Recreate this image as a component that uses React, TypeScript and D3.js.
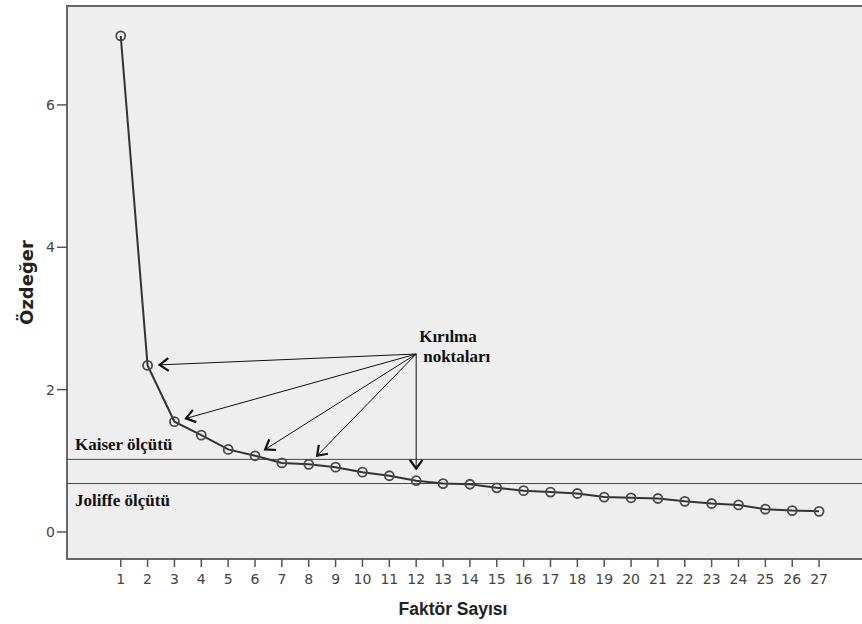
import { useEffect, useRef } from 'react';
import * as d3 from 'd3';

// Scree plot data
const factors = [1, 2, 3, 4, 5, 6, 7, 8, 9, 10, 11, 12, 13, 14, 15, 16, 17, 18, 19, 20, 21, 22, 23, 24, 25, 26, 27];
const eigenvalues = [6.97, 2.34, 1.55, 1.36, 1.16, 1.07, 0.97, 0.95, 0.91, 0.84, 0.79, 0.72, 0.68, 0.67, 0.62, 0.58, 0.56, 0.54, 0.49, 0.48, 0.47, 0.43, 0.40, 0.38, 0.32, 0.30, 0.29];
const yTicks = [0, 2, 4, 6];

// reference lines
const criteria = [
    { name: 'Kaiser ölçütü', value: 1.02 },
    { name: 'Joliffe ölçütü', value: 0.68 },
];

// break points pointed by arrows
const breakFactors = [2, 3, 6, 8, 12];
const breakOrigin = { x: 12, y: 2.5 };
const breakLabel = ['Kırılma', 'noktaları'];

const xTitle = 'Faktör Sayısı';
const yTitle = 'Özdeğer';

const W = 862;
const H = 624;

const App = () => {
    const svgRef = useRef<SVGSVGElement | null>(null);

    useEffect(() => {
        const svg = d3.select(svgRef.current);
        svg.selectAll('*').remove();

        const left = 67, top = 6, bottom = 559;
        const step = 26.86;
        const x = d3.scaleLinear().domain([-1, 30]).range([left, left + 31 * step]);
        const y = d3.scaleLinear().domain([-0.38, 7.39]).range([bottom, top]);

        // plot background + frame (right edge falls outside the picture)
        svg.append('rect')
            .attr('x', left)
            .attr('y', top)
            .attr('width', x(30) - left)
            .attr('height', bottom - top)
            .attr('fill', '#eeeeee')
            .attr('stroke', '#666')
            .attr('stroke-width', 2);

        // y axis ticks
        yTicks.forEach(t => {
            svg.append('line')
                .attr('x1', left - 10).attr('x2', left)
                .attr('y1', y(t)).attr('y2', y(t))
                .attr('stroke', '#555').attr('stroke-width', 1.5);
            svg.append('text')
                .attr('x', left - 12)
                .attr('y', y(t))
                .attr('dy', '0.36em')
                .attr('text-anchor', 'end')
                .attr('fill', '#444')
                .style('font-family', "'DejaVu Sans', sans-serif")
                .style('font-size', '14px')
                .text(t);
        });

        // x axis ticks
        factors.forEach(f => {
            svg.append('line')
                .attr('x1', x(f)).attr('x2', x(f))
                .attr('y1', bottom).attr('y2', bottom + 8)
                .attr('stroke', '#555').attr('stroke-width', 1.5);
            svg.append('text')
                .attr('x', x(f))
                .attr('y', bottom + 25)
                .attr('text-anchor', 'middle')
                .attr('fill', '#444')
                .style('font-family', "'DejaVu Sans', sans-serif")
                .style('font-size', '14px')
                .text(f);
        });

        // axis titles
        svg.append('text')
            .attr('x', 453)
            .attr('y', 615)
            .attr('text-anchor', 'middle')
            .attr('fill', '#222')
            .style('font-family', "'Liberation Sans', Arial, sans-serif")
            .style('font-weight', 'bold')
            .style('font-size', '17.5px')
            .text(xTitle);

        svg.append('text')
            .attr('transform', `translate(33,${(238 + 327) / 2}) rotate(-90)`)
            .attr('text-anchor', 'middle')
            .attr('fill', '#222')
            .style('font-family', "'DejaVu Sans', sans-serif")
            .style('font-weight', 'bold')
            .style('font-size', '18px')
            .text(yTitle);

        // criteria lines
        criteria.forEach((c, i) => {
            svg.append('line')
                .attr('x1', left).attr('x2', W)
                .attr('y1', y(c.value)).attr('y2', y(c.value))
                .attr('stroke', '#444').attr('stroke-width', 1);
            svg.append('text')
                .attr('x', left + 8)
                .attr('y', i === 0 ? y(c.value) - 9 : y(c.value) + 22)
                .attr('fill', '#111')
                .style('font-family', "'Liberation Serif', 'Times New Roman', serif")
                .style('font-weight', 'bold')
                .style('font-size', '17px')
                .text(c.name);
        });

        // scree line
        const line = d3.line<number>()
            .x((_, i) => x(factors[i]))
            .y(d => y(d));

        svg.append('path')
            .datum(eigenvalues)
            .attr('d', line)
            .attr('fill', 'none')
            .attr('stroke', '#333')
            .attr('stroke-width', 2);

        svg.selectAll('circle.pt')
            .data(eigenvalues)
            .join('circle')
            .attr('class', 'pt')
            .attr('cx', (_, i) => x(factors[i]))
            .attr('cy', d => y(d))
            .attr('r', 4.5)
            .attr('fill', 'none')
            .attr('stroke', '#4a4a4a')
            .attr('stroke-width', 1.8);

        // arrows to break points
        const ox = x(breakOrigin.x);
        const oy = y(breakOrigin.y);
        breakFactors.forEach(f => {
            const px = x(f);
            const py = y(eigenvalues[factors.indexOf(f)]);
            const dx = px - ox, dy = py - oy;
            const len = Math.hypot(dx, dy);
            const ux = dx / len, uy = dy / len;
            const gap = 12;
            const tx = px - ux * gap, ty = py - uy * gap;
            svg.append('line')
                .attr('x1', ox).attr('y1', oy)
                .attr('x2', tx).attr('y2', ty)
                .attr('stroke', '#111').attr('stroke-width', 1);
            const ang = Math.atan2(uy, ux);
            const head = 11, spread = 0.62;
            const a1 = ang + Math.PI - spread, a2 = ang + Math.PI + spread;
            svg.append('path')
                .attr('d', `M${tx + Math.cos(a1) * head},${ty + Math.sin(a1) * head} L${tx},${ty} L${tx + Math.cos(a2) * head},${ty + Math.sin(a2) * head}`)
                .attr('fill', 'none')
                .attr('stroke', '#111')
                .attr('stroke-width', 2.2);
        });

        breakLabel.forEach((t, i) => {
            svg.append('text')
                .attr('x', ox + 3 + i * 4)
                .attr('y', oy - 12 + i * 20)
                .attr('fill', '#111')
                .style('font-family', "'Liberation Serif', 'Times New Roman', serif")
                .style('font-weight', 'bold')
                .style('font-size', '17px')
                .text(t);
        });
    }, []);

    return (
        <div style={{ position: 'absolute', left: 0, top: 0, width: W, height: H, background: '#fff' }}>
            <svg ref={svgRef} width={W} height={H} style={{ display: 'block', overflow: 'hidden' }} />
        </div>
    );
};

export default App;
